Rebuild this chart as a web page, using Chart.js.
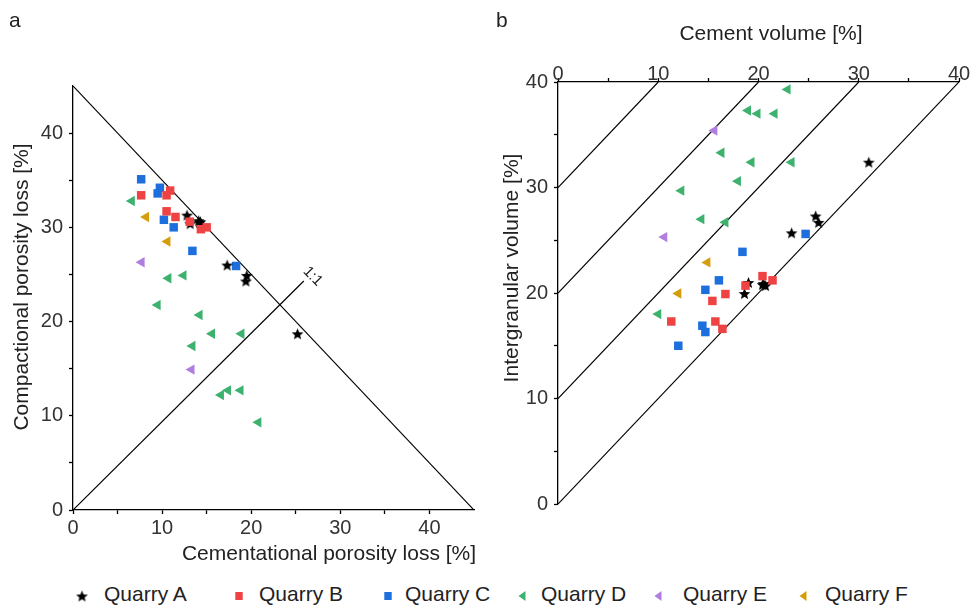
<!DOCTYPE html>
<html>
<head>
<meta charset="utf-8">
<script src="https://cdn.jsdelivr.net/npm/chart.js@4.4.0/dist/chart.umd.min.js"></script>
<style>
html,body{margin:0;padding:0;background:#fff;}
#wrap{position:relative;width:970px;height:605px;overflow:hidden;font-family:"Liberation Sans",Arial,sans-serif;}
#ca{position:absolute;left:0;top:0;}
#cb{position:absolute;left:490px;top:0;}
.lgText{position:absolute;top:583px;height:21px;line-height:21px;font-size:21px;color:#222;white-space:nowrap;}
.lgMark{position:absolute;}
</style>
</head>
<body>
<div id="wrap">
  <canvas id="ca" width="490" height="570"></canvas>
  <canvas id="cb" width="480" height="570"></canvas>
  <div id="legend"></div>
</div>
<script>
const FONT = '"Liberation Sans", Arial, sans-serif';

// ---------- series ----------
const seriesNames  = ['Quarry A', 'Quarry B', 'Quarry C', 'Quarry D', 'Quarry E', 'Quarry F'];
const seriesColors = ['#000000', '#EF4242', '#1C6FDD', '#3DB26F', '#B07EE0', '#D49D0C'];

// ---------- panel a: cementational (x) vs compactional (y) porosity loss [%] ----------
const aCeplA = [12.8, 13.15, 14.1, 14.3, 14.2, 17.3, 19.5, 19.4, 25.2];
const aCoplA = [31.3, 30.4, 30.7, 30.6, 30.5, 26.0, 24.9, 24.3, 18.7];
const aCeplB = [7.65, 10.9, 10.5, 10.5, 11.5, 13.1, 14.35, 15.0];
const aCoplB = [33.4, 33.9, 33.4, 31.7, 31.1, 30.6, 29.8, 30.0];
const aCeplC = [7.65, 9.75, 9.5, 10.2, 11.3, 13.4, 18.3];
const aCoplC = [35.1, 34.2, 33.6, 30.8, 30.0, 27.5, 25.9];
const aCeplD = [6.6, 10.7, 12.4, 9.5, 14.2, 15.6, 18.9, 13.4, 16.6, 17.4, 18.8, 20.8];
const aCoplD = [32.8, 24.6, 24.9, 21.75, 20.7, 18.7, 18.7, 17.4, 12.2, 12.7, 12.7, 9.3];
const aCeplE = [7.7, 13.3];
const aCoplE = [26.3, 14.9];
const aCeplF = [8.2, 10.6];
const aCoplF = [31.1, 28.5];

// reference lines of panel a
const aDiagX = [0, 45];
const aDiagY = [45, 0];
const aOneX  = [0, 25.9];
const aOneY  = [0, 24.3];
const aOneLabel = '1:1';
const aOneLabelAt = [26.9, 24.8];

// ---------- panel b: cement volume (x) vs intergranular volume (y) [%] ----------
const bCemA = [19.0, 18.6, 20.4, 20.7, 20.5, 23.3, 25.7, 26.0, 31.0];
const bIgvA = [21.0, 19.95, 20.8, 20.7, 20.9, 25.7, 27.3, 26.7, 32.4];
const bCemB = [20.4, 21.4, 18.7, 16.7, 15.4, 11.3, 15.7, 16.4];
const bIgvB = [21.6, 21.2, 20.7, 19.9, 19.25, 17.3, 17.3, 16.6];
const bCemC = [24.7, 18.4, 16.05, 14.7, 14.4, 14.7, 12.0];
const bIgvC = [25.6, 23.9, 21.2, 20.3, 16.9, 16.3, 15.0];
const bCemD = [22.9, 18.95, 19.9, 21.6, 16.3, 19.3, 23.3, 17.95, 12.3, 14.3, 16.7, 10.0];
const bIgvD = [39.3, 37.3, 37.0, 37.0, 33.3, 32.4, 32.4, 30.6, 29.7, 27.0, 26.7, 18.0];
const bCemE = [15.6, 10.6];
const bIgvE = [35.4, 25.3];
const bCemF = [14.9, 12.0];
const bIgvF = [22.9, 19.95];

// guide lines of panel b (intergranular porosity 0,10,20,30 %)
const bGuideX0 = [0, 0, 0, 0];
const bGuideY0 = [0, 10, 20, 30];
const bGuideX1 = [40, 30, 20, 10];
const bGuideY1 = [40, 40, 40, 40];

// tick labels
const aTickLabels = [0, 10, 20, 30, 40];
const bTickLabels = [0, 10, 20, 30, 40];

// ---------- helpers ----------
function makeStar(size, color) {
  const c = document.createElement('canvas');
  c.width = size; c.height = size;
  const g = c.getContext('2d');
  g.fillStyle = color;
  g.beginPath();
  const R = size / 2 - 0.3, r = R * 0.44, cx = size / 2, cy = size / 2 + 0.6;
  for (let i = 0; i < 10; i++) {
    const ang = -Math.PI / 2 + i * Math.PI / 5;
    const rr = (i % 2) ? r : R;
    g.lineTo(cx + rr * Math.cos(ang), cy + rr * Math.sin(ang));
  }
  g.closePath();
  g.fill();
  return c;
}
const starImg = makeStar(13, '#000');

const markerStyles = [
  { pointStyle: starImg, radius: 6.5, rotation: 0 },
  { pointStyle: 'rect', radius: 6, rotation: 0 },
  { pointStyle: 'rect', radius: 6, rotation: 0 },
  { pointStyle: 'triangle', radius: 6, rotation: -90 },
  { pointStyle: 'triangle', radius: 6, rotation: -90 },
  { pointStyle: 'triangle', radius: 6, rotation: -90 }
];
const drawOrder = [2, 1, 3, 4, 5, 6];

function pts(xs, ys) { return xs.map((x, i) => ({ x: x, y: ys[i] })); }

function markerDatasets(xsList, ysList) {
  return seriesNames.map((name, k) => ({
    type: 'scatter',
    label: name,
    data: pts(xsList[k], ysList[k]),
    pointStyle: markerStyles[k].pointStyle,
    pointRadius: markerStyles[k].radius,
    pointHoverRadius: markerStyles[k].radius,
    pointRotation: markerStyles[k].rotation,
    backgroundColor: seriesColors[k],
    borderColor: seriesColors[k],
    pointBorderWidth: 0,
    showLine: false,
    order: drawOrder[k]
  }));
}

function lineDataset(xs, ys) {
  return {
    type: 'scatter',
    data: pts(xs, ys),
    showLine: true,
    borderColor: '#000',
    borderWidth: 1.2,
    pointRadius: 0,
    pointHoverRadius: 0,
    fill: false,
    order: 100
  };
}

function axis(o) {
  return {
    type: 'linear',
    min: o.min, max: o.max,
    position: o.position,
    afterFit: s => {
      if (o.w != null) s.width = o.w;
      if (o.h != null) s.height = o.h;
    },
    ticks: {
      stepSize: 5,
      autoSkip: false,
      maxRotation: 0,
      padding: o.pad,
      color: '#333',
      font: { family: FONT, size: 20 },
      callback: v => (o.labels.indexOf(v) >= 0 ? String(v) : '')
    },
    grid: {
      display: true,
      drawOnChartArea: false,
      drawTicks: true,
      tickLength: 4,
      tickWidth: 1.3,
      tickColor: ctx => (ctx.tick && ctx.tick.value > o.tickMax) ? 'rgba(0,0,0,0)' : '#000'
    },
    border: { display: true, color: '#000', width: 1.3 },
    title: { display: false }
  };
}

function textPlugin(id, itemsFn) {
  return {
    id: id,
    afterDraw(chart) {
      const c = chart.ctx;
      itemsFn(chart).forEach(t => {
        c.save();
        c.translate(t.x, t.y);
        if (t.rot) c.rotate(t.rot);
        c.font = t.font || ('21px ' + FONT);
        c.fillStyle = t.color || '#222';
        c.textAlign = t.align || 'center';
        c.textBaseline = t.baseline || 'alphabetic';
        c.fillText(t.text, 0, 0);
        c.restore();
      });
    }
  };
}

Chart.defaults.animation = false;
Chart.defaults.events = [];

// ---------- panel a ----------
new Chart(document.getElementById('ca'), {
  type: 'scatter',
  data: {
    datasets: [
      lineDataset(aDiagX, aDiagY),
      lineDataset(aOneX, aOneY)
    ].concat(markerDatasets(
      [aCeplA, aCeplB, aCeplC, aCeplD, aCeplE, aCeplF],
      [aCoplA, aCoplB, aCoplC, aCoplD, aCoplE, aCoplF]))
  },
  options: {
    responsive: false,
    animation: false,
    layout: { padding: { left: 0, top: 86, right: 16, bottom: 0 } },
    plugins: { legend: { display: false }, tooltip: { enabled: false } },
    scales: {
      x: axis({ min: 0, max: 45, position: 'bottom', h: 60, pad: 2, labels: aTickLabels, tickMax: 40 }),
      y: axis({ min: 0, max: 45, position: 'left', w: 73, pad: 6, labels: aTickLabels, tickMax: 40 })
    }
  },
  plugins: [textPlugin('txtA', chart => [
    { text: 'a', x: 9, y: 27, align: 'left' },
    { text: 'Compactional porosity loss [%]', x: 28, y: 287, rot: -Math.PI / 2 },
    { text: 'Cementational porosity loss [%]', x: 329, y: 560 },
    { text: aOneLabel,
      x: chart.scales.x.getPixelForValue(aOneLabelAt[0]),
      y: chart.scales.y.getPixelForValue(aOneLabelAt[1]),
      rot: Math.PI / 4, baseline: 'middle', font: '15px ' + FONT }
  ])]
});

// ---------- panel b ----------
const guideSets = bGuideX0.map((x0, i) => lineDataset([x0, bGuideX1[i]], [bGuideY0[i], bGuideY1[i]]));
new Chart(document.getElementById('cb'), {
  type: 'scatter',
  data: {
    datasets: guideSets.concat(markerDatasets(
      [bCemA, bCemB, bCemC, bCemD, bCemE, bCemF],
      [bIgvA, bIgvB, bIgvC, bIgvD, bIgvE, bIgvF]))
  },
  options: {
    responsive: false,
    animation: false,
    layout: { padding: { left: 0, top: 0, right: 11, bottom: 66 } },
    plugins: { legend: { display: false }, tooltip: { enabled: false } },
    scales: {
      x: axis({ min: 0, max: 40, position: 'top', h: 82, pad: -8, labels: bTickLabels, tickMax: 40 }),
      y: axis({ min: 0, max: 40, position: 'left', w: 68, pad: 6, labels: bTickLabels, tickMax: 40 })
    }
  },
  plugins: [textPlugin('txtB', chart => [
    { text: 'b', x: 6, y: 27, align: 'left' },
    { text: 'Cement volume [%]', x: 281, y: 40 },
    { text: 'Intergranular volume [%]', x: 28, y: 268, rot: -Math.PI / 2 }
  ])]
});

// ---------- legend ----------
const legendMarkX = [82, 239, 388, 522, 658, 803];
const legendTextX = [104, 259, 405, 541, 683, 825];
const legendY = 596;
const lg = document.getElementById('legend');
seriesNames.forEach((name, k) => {
  const mc = document.createElement('canvas');
  mc.width = 16; mc.height = 16;
  mc.className = 'lgMark';
  mc.style.left = (legendMarkX[k] - 8) + 'px';
  mc.style.top = (legendY - 8) + 'px';
  const g = mc.getContext('2d');
  g.fillStyle = seriesColors[k];
  if (k === 0) {
    g.drawImage(makeStar(13, '#000'), 1.5, 1.5);
  } else if (k === 1 || k === 2) {
    g.fillRect(8 - 3.7, 8 - 4, 7.4, 8);
  } else {
    g.beginPath();
    g.moveTo(8 - 3.5, 8);
    g.lineTo(8 + 3.5, 8 - 5);
    g.lineTo(8 + 3.5, 8 + 5);
    g.closePath();
    g.fill();
  }
  lg.appendChild(mc);
  const sp = document.createElement('span');
  sp.className = 'lgText';
  sp.style.left = legendTextX[k] + 'px';
  sp.textContent = name;
  lg.appendChild(sp);
});
</script>
</body>
</html>
